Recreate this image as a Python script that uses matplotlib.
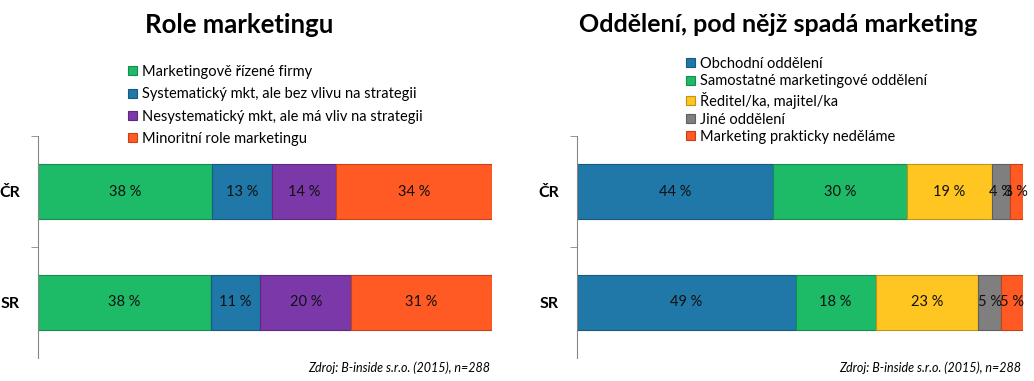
"""Two 100% stacked bar charts: role of marketing and department owning it."""

import matplotlib
matplotlib.use("Agg")
import matplotlib.pyplot as plt
import matplotlib.colors as mcolors
import numpy as np

plt.rcParams["font.family"] = ["Lato", "DejaVu Sans"]

COUNTRIES = ["ČR", "SR"]

ROLE_LABELS = [
    "Marketingově řízené firmy",
    "Systematický mkt, ale bez vlivu na strategii",
    "Nesystematický mkt, ale má vliv na strategii",
    "Minoritní role marketingu",
]
ROLE_VALUES = [
    [38, 38],
    [13, 11],
    [14, 20],
    [34, 31],
]
ROLE_COLORS = ["#1dbb68", "#1f78a8", "#7b38a8", "#ff5a23"]

DEPT_LABELS = [
    "Obchodní oddělení",
    "Samostatné marketingové oddělení",
    "Ředitel/ka, majitel/ka",
    "Jiné oddělení",
    "Marketing prakticky neděláme",
]
DEPT_VALUES = [
    [44, 49],
    [30, 18],
    [19, 23],
    [4, 5],
    [3, 5],
]
DEPT_COLORS = ["#1f78a8", "#1dbb68", "#ffc520", "#7f7f7f", "#ff5a23"]

SOURCE = "Zdroj: B-inside s.r.o. (2015), n=288"

W, H = 1034, 381


def darker(color, f=0.75):
    r, g, b = mcolors.to_rgb(color)
    return (r * f, g * f, b * f)


def stacked(ax, labels, values, colors):
    vals = np.array(values, dtype=float)
    shares = vals / vals.sum(axis=0)
    y = np.arange(len(COUNTRIES))
    left = np.zeros(len(COUNTRIES))
    for lab, raw, share, col in zip(labels, vals, shares, colors):
        bars = ax.barh(y, share, left=left, height=0.5, color=col,
                       edgecolor=darker(col), linewidth=0.8, label=lab)
        ax.bar_label(bars, labels=[f"{int(v)} %" for v in raw],
                     label_type="center", fontsize=10.5, color="#111111")
        left += share

    ax.set_xlim(0, 1)
    ax.set_ylim(1.5, -0.5)
    ax.set_yticks(y)
    ax.set_yticklabels(COUNTRIES, fontsize=11.5, fontweight="bold")
    ax.tick_params(axis="y", which="major", length=0, pad=13)
    ax.set_yticks([-0.5, 0.5], minor=True)
    ax.tick_params(axis="y", which="minor", length=5, color="#868686")
    ax.set_xticks([])
    for side in ("top", "right", "bottom"):
        ax.spines[side].set_visible(False)
    ax.spines["left"].set_color("#868686")


fig = plt.figure(figsize=(W / 100, H / 100), dpi=100)

ax1 = fig.add_axes([38 / W, 1 - 358 / H, (492 - 38) / W, (358 - 136) / H])
stacked(ax1, ROLE_LABELS, ROLE_VALUES, ROLE_COLORS)
ax2 = fig.add_axes([577 / W, 1 - 358 / H, (1023 - 577) / W, (358 - 136) / H])
stacked(ax2, DEPT_LABELS, DEPT_VALUES, DEPT_COLORS)

fig.text(239 / W, 1 - 25 / H, "Role marketingu", ha="center", va="center",
         fontsize=18.5, fontweight="bold")
fig.text(778 / W, 1 - 25 / H, "Oddělení, pod nějž spadá marketing",
         ha="center", va="center", fontsize=18, fontweight="bold")

leg_kw = dict(loc="upper left", bbox_transform=fig.transFigure, frameon=False,
              borderpad=0, borderaxespad=0, handlelength=0.6,
              handleheight=0.6, handletextpad=0.35, fontsize=10.5)
ax1.legend(bbox_to_anchor=(128 / W, 1 - 65 / H), labelspacing=0.57, **leg_kw)
ax2.legend(bbox_to_anchor=(686 / W, 1 - 57 / H), labelspacing=0.24, **leg_kw)

fig.text(490 / W, 1 - 368 / H, SOURCE, ha="right", va="center",
         fontsize=9, style="italic")
fig.text(1021 / W, 1 - 368 / H, SOURCE, ha="right", va="center",
         fontsize=9, style="italic")

fig.savefig("out.png", dpi=100)
